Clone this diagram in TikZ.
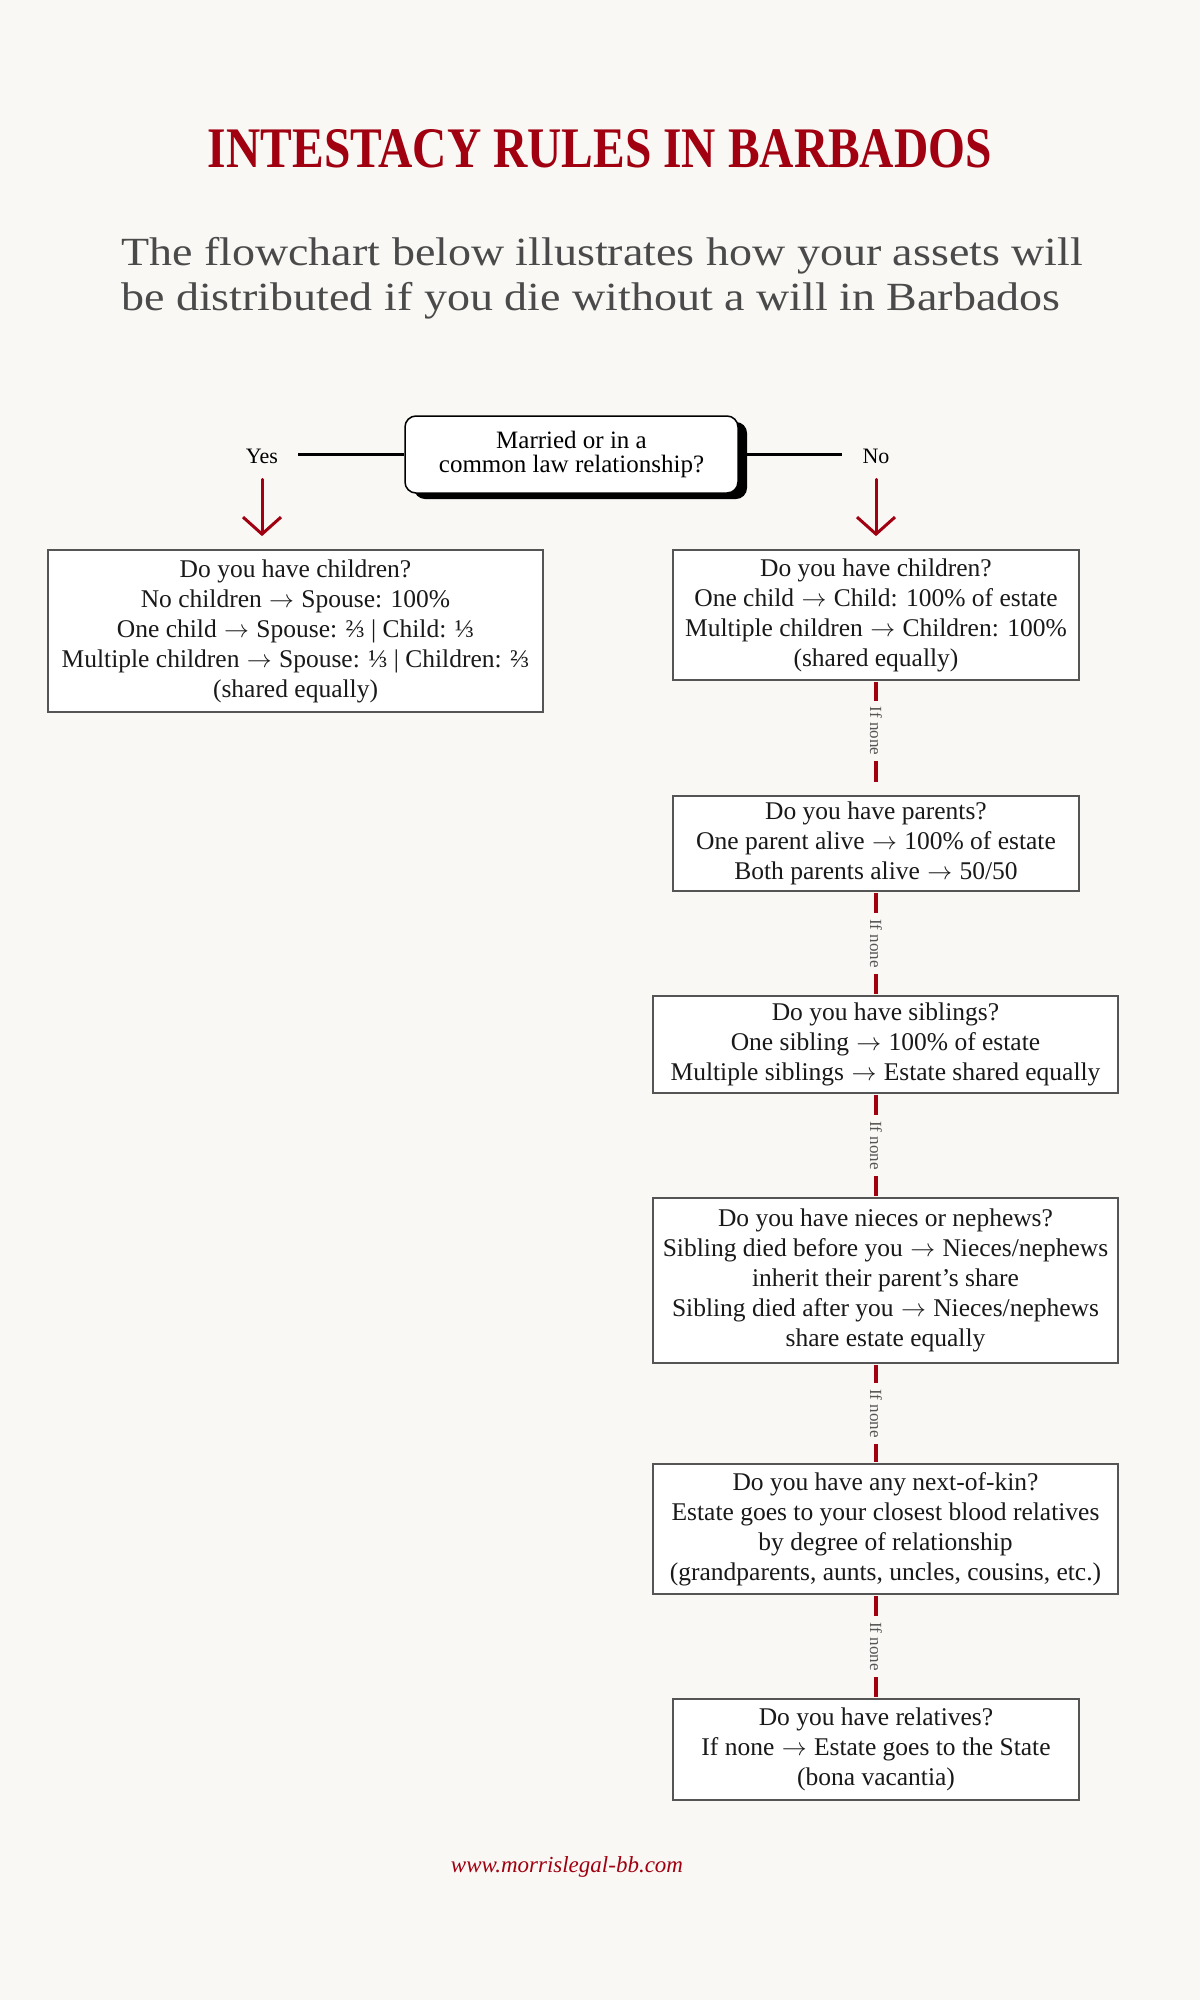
\documentclass[tikz,border=0pt]{standalone}
\usepackage{fontspec}
\setmainfont{Liberation Serif}
\usetikzlibrary{arrows.meta,shadows}
\definecolor{paper}{HTML}{F9F8F5}
\definecolor{wine}{HTML}{A0000F}
\definecolor{edgegray}{HTML}{555555}
\definecolor{subgray}{HTML}{4A4A4A}
\newcommand\flowto{\kern1pt$\rightarrow$\kern1pt}
\begin{document}
\begin{tikzpicture}[x=1pt,y=-1pt,
    rulebox/.style={draw=edgegray, line width=1.8pt, fill=white, align=center, inner sep=0pt,
      text=black!90, font=\fontsize{25.5}{30}\selectfont},
    ifnone/.style={draw=wine, line width=3.5pt, shorten <=1pt, shorten >=1pt},
    nonelabel/.style={rotate=-90, fill=paper, text=edgegray, font=\fontsize{17}{17}\selectfont,
      inner xsep=6pt, inner ysep=1pt},
    downarrow/.style={draw=wine, line width=3pt, line cap=round,
      -{Straight Barb[length=17pt,width=38pt]}}]
  \fill[paper] (0,0) rectangle (1200,2000);

  % heading
  \node [anchor=south, inner sep=0pt, text=wine] (title) at (600,168)
    {\resizebox{784pt}{38pt}{\bfseries INTESTACY RULES IN BARBADOS}};
  \node [anchor=base west, inner sep=0pt, align=left, text=subgray,
    font=\fontsize{40}{45}\selectfont] (intro) at (121,310)
    {\scalebox{1.15}[1]{The flowchart below illustrates how your assets will}\\
     \scalebox{1.15}[1]{be distributed if you die without a will in Barbados}};

  % first question
  \node [draw=black, line width=1.5pt, rounded corners=11pt, fill=white,
    minimum width=333pt, minimum height=77pt, align=center,
    font=\fontsize{25}{24}\selectfont,
    drop shadow={shadow xshift=9pt, shadow yshift=-6pt, opacity=1, fill=black}]
    (wed) at (571.5,454.5) {Married or in a\\common law relationship?};
  \node [anchor=base, inner xsep=20pt, font=\fontsize{22}{22}\selectfont] (yes) at (262,463) {Yes};
  \node [anchor=base, inner xsep=20pt, font=\fontsize{22}{22}\selectfont] (no) at (876,463) {No};
  \draw [line width=3.5pt] (wed.west -| yes.east) -- (wed.west);
  \draw [line width=3.5pt] (wed.east) -- (wed.east -| no.west);

  % yes branch
  \node [rulebox, minimum width=495pt, minimum height=162pt] (spouse) at (295.5,631)
    {Do you have children?\\
     No children \flowto{} Spouse: 100\%\\
     One child \flowto{} Spouse: ⅔ | Child: ⅓\\
     Multiple children \flowto{} Spouse: ⅓ | Children: ⅔\\
     (shared equally)};
  \draw [downarrow, shorten <=12.7pt, shorten >=13pt] (yes.south) -- (yes.south |- spouse.north);

  % no branch
  \node [rulebox, minimum width=406pt, minimum height=130pt] (kids) at (876,615)
    {Do you have children?\\
     One child \flowto{} Child: 100\% of estate\\
     Multiple children \flowto{} Children: 100\%\\
     (shared equally)};
  \draw [downarrow, shorten <=12.7pt, shorten >=13pt] (no.south) -- (no.south |- kids.north);
  \node [rulebox, minimum width=406pt, minimum height=95pt] (parents) at (876,843.5)
    {Do you have parents?\\
     One parent alive \flowto{} 100\% of estate\\
     Both parents alive \flowto{} 50/50};
  \node [rulebox, minimum width=465pt, minimum height=97pt] (siblings) at (885.5,1044.5)
    {Do you have siblings?\\
     One sibling \flowto{} 100\% of estate\\
     Multiple siblings \flowto{} Estate shared equally};
  \node [rulebox, minimum width=465pt, minimum height=165pt] (nieces) at (885.5,1280.5)
    {Do you have nieces or nephews?\\
     Sibling died before you \flowto{} Nieces/nephews\\
     inherit their parent's share\\
     Sibling died after you \flowto{} Nieces/nephews\\
     share estate equally};
  \node [rulebox, minimum width=465pt, minimum height=130pt] (kin) at (885.5,1529)
    {Do you have any next-of-kin?\\
     Estate goes to your closest blood relatives\\
     by degree of relationship\\
     (grandparents, aunts, uncles, cousins, etc.)};
  \node [rulebox, minimum width=406pt, minimum height=101pt] (crown) at (876,1749.5)
    {Do you have relatives?\\
     If none \flowto{} Estate goes to the State\\
     (bona vacantia)};

  \draw [ifnone, shorten >=13pt] (kids.south) -- node [nonelabel, pos=0.44] {If none} (parents.north);
  \draw [ifnone] (parents.south) -- node [nonelabel] {If none} (siblings.north -| parents.south);
  \draw [ifnone] (siblings.south -| parents.south) -- node [nonelabel] {If none} (nieces.north -| parents.south);
  \draw [ifnone] (nieces.south -| parents.south) -- node [nonelabel] {If none} (kin.north -| parents.south);
  \draw [ifnone] (kin.south -| parents.south) -- node [nonelabel] {If none} (crown.north);

  \node [anchor=base, text=wine, font=\itshape\fontsize{23}{23}\selectfont] (site) at (567,1872)
    {www.morrislegal-bb.com};
\end{tikzpicture}
\end{document}
